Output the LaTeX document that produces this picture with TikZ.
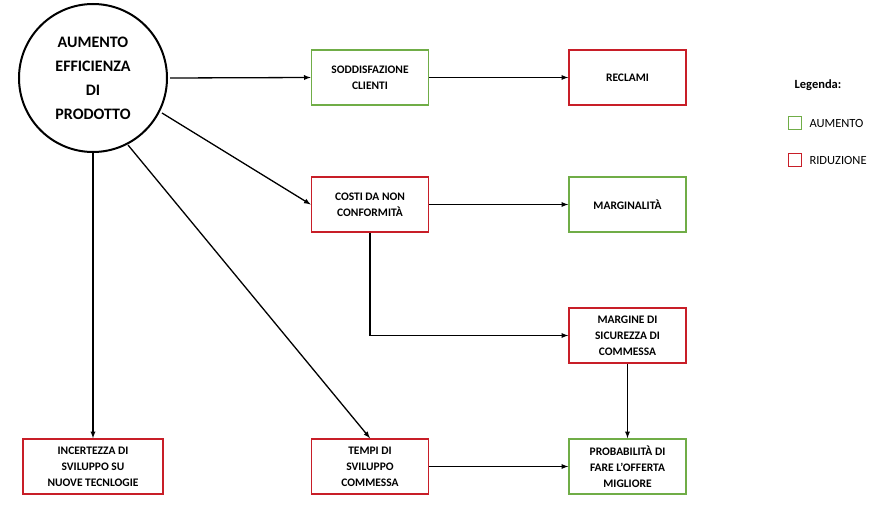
\documentclass[tikz,border=0pt]{standalone}
\usepackage{fontspec}
\setmainfont{Carlito}
\usetikzlibrary{shapes.geometric}
\begin{document}
\begin{tikzpicture}[x=1pt,y=-1pt,
 box/.style={draw,line width=1.6pt,minimum width=117pt,minimum height=55pt,align=center,font=\fontsize{11.5}{16}\selectfont\bfseries,inner sep=2pt},
 g/.style={box,draw={rgb,255:red,112;green,173;blue,71}},
 r/.style={box,draw={rgb,255:red,200;green,30;blue,40}},
 arr/.style={-latex,line width=1.3pt}]
\useasboundingbox (0,0) rectangle (894,511);
\node[draw,circle,line width=2pt,minimum size=148pt,inner sep=0pt] (e) at (93,78) {};
\node[align=center,font=\fontsize{16}{24}\selectfont\bfseries] (et) at (93,78) {AUMENTO\\EFFICIENZA\\DI\\PRODOTTO};
\coordinate (e1) at (170,78);
\coordinate (e2) at (162,113);
\coordinate (e3) at (128,145);
\coordinate (e4) at (93,152);
\node[g] (s) at (370,77.5) {SODDISFAZIONE\\CLIENTI};
\node[r] (rc) at (627.5,77.5) {RECLAMI};
\node[r] (c) at (370,204.5) {COSTI DA NON\\CONFORMITÀ};
\node[g] (m) at (627.5,204.5) {MARGINALITÀ};
\node[r] (ms) at (627.5,335.5) {MARGINE DI\\SICUREZZA DI\\COMMESSA};
\node[r,minimum width=140pt] (i) at (93,466.5) {INCERTEZZA DI\\SVILUPPO SU\\NUOVE TECNLOGIE};
\node[r] (t) at (370,466.5) {TEMPI DI\\SVILUPPO\\COMMESSA};
\node[g] (p) at (627.5,466.5) {PROBABILITÀ DI\\FARE L’OFFERTA\\MIGLIORE};
\draw[arr] (e1) -- (s.west);
\draw[arr] (s) -- (rc);
\draw[arr] (c) -- (m);
\draw[arr] (e2) -- (c.west);
\draw[arr] (e3) -- (t.north);
\draw[arr] (e4) -- (i.north);
\draw[arr] (c.south) |- (ms.west);
\draw[arr] (ms) -- (p);
\draw[arr] (t) -- (p);
\node[font=\fontsize{12.5}{14}\selectfont\bfseries] (lg) at (818,85) {Legenda:};
\node[draw={rgb,255:red,112;green,173;blue,71},line width=1.6pt,minimum size=13pt,inner sep=0] (lg1) at (795,123) {};
\node[anchor=west,font=\fontsize{12.5}{14}\selectfont] (lt1) at (806,123) {AUMENTO};
\node[draw={rgb,255:red,200;green,30;blue,40},line width=1.6pt,minimum size=13pt,inner sep=0] (lg2) at (795,160) {};
\node[anchor=west,font=\fontsize{12.5}{14}\selectfont] (lt2) at (806,160) {RIDUZIONE};
\end{tikzpicture}
\end{document}
